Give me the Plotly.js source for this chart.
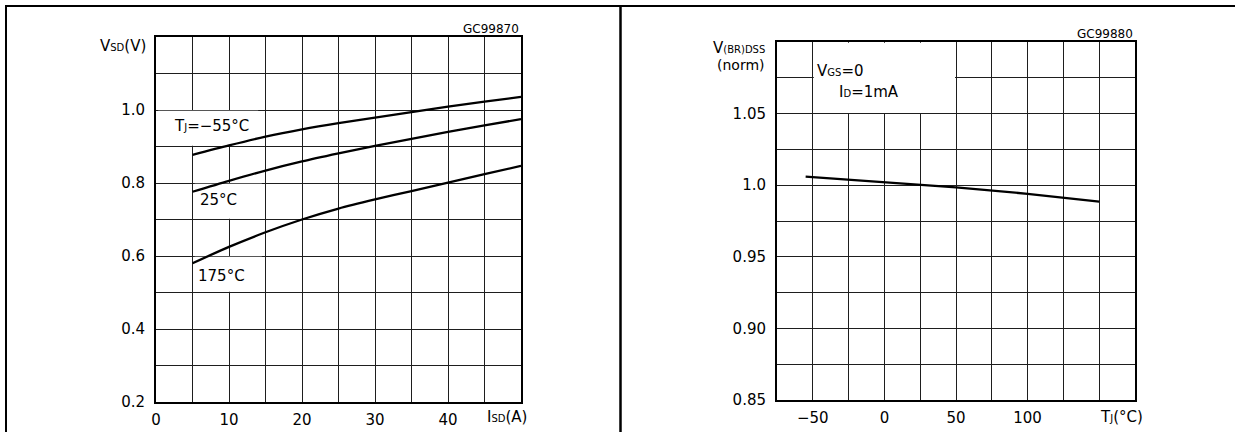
<!DOCTYPE html>
<html>
<head>
<meta charset="utf-8">
<script src="https://cdn.plot.ly/plotly-3.0.1.min.js"></script>
<style>html,body{margin:0;padding:0;background:#fff;}#chart{width:1235px;height:432px;}</style>
</head>
<body>
<div id="chart"></div>
<script>
// ---- data ----
const isd = [5, 10, 15, 20, 25, 30, 35, 40, 45, 50];
const vsdM55 = [0.877, 0.903, 0.927, 0.947, 0.964, 0.979, 0.994, 1.009, 1.023, 1.036];
const vsd25 = [0.776, 0.806, 0.834, 0.859, 0.881, 0.902, 0.921, 0.940, 0.958, 0.975];
const vsd175 = [0.580, 0.625, 0.665, 0.700, 0.730, 0.755, 0.778, 0.801, 0.824, 0.847];

const tj = [-55, 0, 50, 100, 150];
const bvdss = [1.006, 1.002, 0.9985, 0.994, 0.9885];

const x1Ticks = [0, 5, 10, 15, 20, 25, 30, 35, 40, 45, 50];
const x1Labels = ['0', '', '10', '', '20', '', '30', '', '40', '', ''];
const y1Ticks = [0.2, 0.3, 0.4, 0.5, 0.6, 0.7, 0.8, 0.9, 1.0, 1.1, 1.2];
const y1Labels = ['0.2', '', '0.4', '', '0.6', '', '0.8', '', '1.0', '', ''];
const x2Ticks = [-75, -50, -25, 0, 25, 50, 75, 100, 125, 150, 175];
const x2Labels = ['', '\u221250', '', '0', '', '50', '', '100', '', '', ''];
const y2Ticks = [0.85, 0.875, 0.90, 0.925, 0.95, 0.975, 1.0, 1.025, 1.05, 1.075, 1.10];
const y2Labels = ['0.85', '', '0.90', '', '0.95', '', '1.0', '', '1.05', '', ''];

// ---- layout helpers ----
const W = 1235, H = 432;
const FONT = 'DejaVu Sans, Arial, sans-serif';
const px = v => v / W;
const py = v => 1 - v / H;

function axis(tv, tt, range, domain, anchor, standoff) {
  return {
    range: range, domain: domain, anchor: anchor,
    tickmode: 'array', tickvals: tv, ticktext: tt,
    showgrid: true, gridcolor: '#1e1e1e', gridwidth: 1,
    showline: true, mirror: true, linecolor: '#000', linewidth: 2,
    zeroline: false, ticks: '', fixedrange: true,
    tickfont: {family: FONT, size: 15, color: '#000'},
    ticklabelstandoff: standoff
  };
}

function ann(text, x, y, xanchor, size, extra) {
  return Object.assign({
    xref: 'paper', yref: 'paper', x: px(x), y: py(y),
    xanchor: xanchor, yanchor: 'middle', showarrow: false,
    text: text, font: {family: FONT, size: size, color: '#000'}
  }, extra || {});
}

const line = {color: '#000', width: 2.3, shape: 'spline', smoothing: 0.8};

const traces = [
  {x: isd, y: vsdM55, xaxis: 'x', yaxis: 'y', mode: 'lines', line: line, name: 'TJ=-55°C', hoverinfo: 'skip'},
  {x: isd, y: vsd25, xaxis: 'x', yaxis: 'y', mode: 'lines', line: line, name: '25°C', hoverinfo: 'skip'},
  {x: isd, y: vsd175, xaxis: 'x', yaxis: 'y', mode: 'lines', line: line, name: '175°C', hoverinfo: 'skip'},
  {x: tj, y: bvdss, xaxis: 'x2', yaxis: 'y2', mode: 'lines', line: {color: '#000', width: 2.3}, name: 'V(BR)DSS', hoverinfo: 'skip'}
];

const small = s => '<span style="font-size:10px">' + s + '</span>';

const layout = {
  width: W, height: H,
  margin: {l: 0, r: 0, t: 0, b: 0},
  paper_bgcolor: '#fff', plot_bgcolor: '#fff',
  showlegend: false,
  xaxis: axis(x1Ticks, x1Labels, [0, 50], [px(156), px(521)], 'y', 3),
  yaxis: axis(y1Ticks, y1Labels, [0.2, 1.2], [py(402), py(37)], 'x', 6),
  xaxis2: axis(x2Ticks, x2Labels, [-75, 175], [px(777), px(1135)], 'y2', 3),
  yaxis2: axis(y2Ticks, y2Labels, [0.85, 1.10], [py(400), py(42)], 'x2', 6),
  shapes: [
    // outer frame and divider
    {type: 'line', xref: 'paper', yref: 'paper', x0: px(5), x1: 1, y0: py(6), y1: py(6), line: {color: '#000', width: 2}},
    {type: 'line', xref: 'paper', yref: 'paper', x0: px(6), x1: px(6), y0: py(5), y1: 0, line: {color: '#000', width: 2}},
    {type: 'line', xref: 'paper', yref: 'paper', x0: px(620.5), x1: px(620.5), y0: py(5), y1: 0, line: {color: '#000', width: 2.5}},
    // white label boxes that hide the grid behind the labels
    {type: 'rect', xref: 'x', yref: 'y', layer: 'between', x0: 0.3, x1: 14, y0: 0.902, y1: 0.998, fillcolor: '#fff', line: {width: 0}},
    {type: 'rect', xref: 'x', yref: 'y', layer: 'between', x0: 5.3, x1: 14.5, y0: 0.702, y1: 0.798, fillcolor: '#fff', line: {width: 0}},
    {type: 'rect', xref: 'x', yref: 'y', layer: 'between', x0: 5.3, x1: 14.5, y0: 0.502, y1: 0.598, fillcolor: '#fff', line: {width: 0}},
    {type: 'rect', xref: 'x2', yref: 'y2', layer: 'between', x0: -49.3, x1: 49.3, y0: 1.0505, y1: 1.0995, fillcolor: '#fff', line: {width: 0}}
  ],
  annotations: [
    // left chart
    ann('V' + small('SD') + '(V)', 148, 46, 'right', 15),
    ann('GC99870', 521, 29, 'right', 12),
    ann('T' + small('J') + '=\u221255°C', 172, 126, 'left', 15),
    ann('25°C', 198, 200, 'left', 15),
    ann('175°C', 196, 276, 'left', 15),
    ann('I' + small('SD') + '(A)', 485, 417, 'left', 15),
    // right chart
    ann('V' + small('(BR)DSS'), 767, 48, 'right', 15),
    ann('(norm)', 767, 65, 'right', 14),
    ann('GC99880', 1135, 34, 'right', 12),
    ann('V' + small('GS') + '=0', 815, 71, 'left', 15),
    ann('I' + small('D') + '=1mA', 837, 92, 'left', 15),
    ann('T' + small('J') + '(°C)', 1098, 417, 'left', 15)
  ]
};

Plotly.newPlot('chart', traces, layout, {staticPlot: true, displayModeBar: false});
</script>
</body>
</html>
